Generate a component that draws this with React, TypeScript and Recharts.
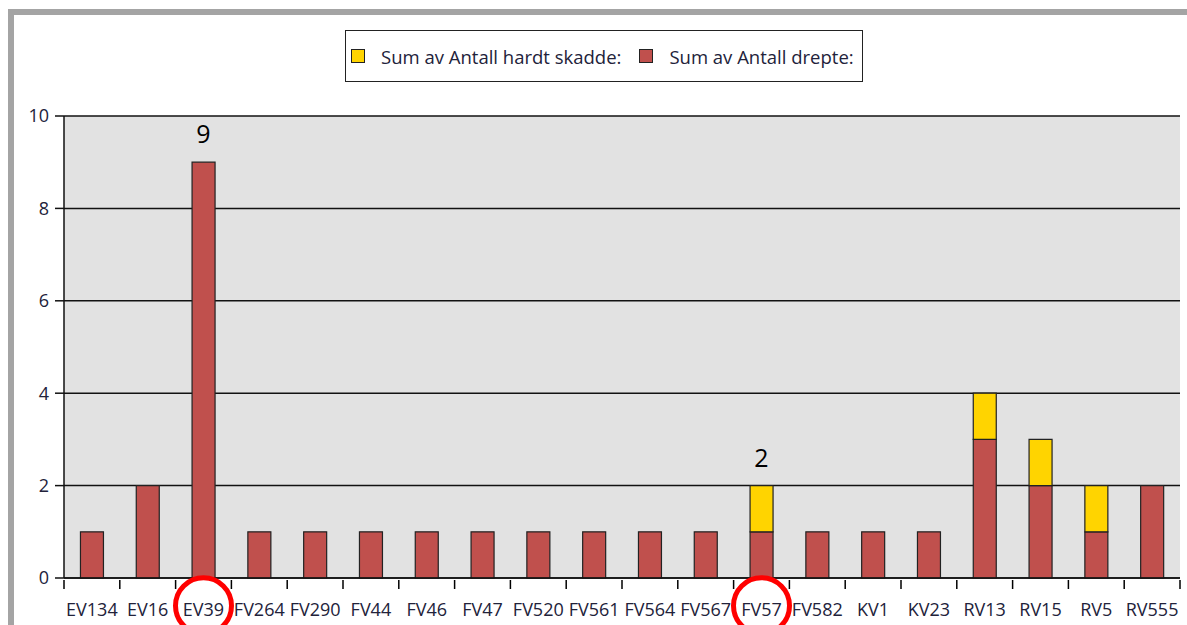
import React from 'react';
import { BarChart, Bar, XAxis, YAxis, CartesianGrid, Legend, ReferenceDot } from 'recharts';

const categories: string[] = [
    'EV134', 'EV16', 'EV39', 'FV264', 'FV290', 'FV44', 'FV46', 'FV47', 'FV520', 'FV561',
    'FV564', 'FV567', 'FV57', 'FV582', 'KV1', 'KV23', 'RV13', 'RV15', 'RV5', 'RV555',
];
const drepte: number[] = [1, 2, 9, 1, 1, 1, 1, 1, 1, 1, 1, 1, 1, 1, 1, 1, 3, 2, 1, 2];
const hardtSkadde: number[] = [0, 0, 0, 0, 0, 0, 0, 0, 0, 0, 0, 0, 1, 0, 0, 0, 1, 1, 1, 0];
const notes: string[] = ['', '', '9', '', '', '', '', '', '', '', '', '', '2', '', '', '', '', '', '', ''];
const circled: string[] = ['EV39', 'FV57'];
const yTicks: number[] = [0, 2, 4, 6, 8, 10];

const data = categories.map((name, i) => ({
    name,
    drepte: drepte[i],
    skadde: hardtSkadde[i],
}));

const noted = categories
    .map((name, i) => ({ name, total: drepte[i] + hardtSkadde[i], note: notes[i] }))
    .filter((d) => d.note !== '');

const W = 1187;
const H = 625;
const margin = { top: 116, right: 7, left: 14, bottom: 7 };
const yAxisWidth = 50;
const band = (W - margin.left - yAxisWidth - margin.right) / categories.length;
const font = '"Open Sans", sans-serif';
const labelColor = '#22223a';

const XTick = (props: any) => {
    const { x, y, payload, index } = props;
    const last = index === categories.length - 1;
    return (
        <g>
            <line x1={x - band / 2} y1={y - 9} x2={x - band / 2} y2={y} stroke="#000" strokeWidth={1.5} />
            {last && <line x1={x + band / 2} y1={y - 9} x2={x + band / 2} y2={y} stroke="#000" strokeWidth={1.5} />}
            <text x={x} y={y + 27} textAnchor="middle" fontSize={18} fontFamily={font} fill={labelColor}>
                {payload.value}
            </text>
        </g>
    );
};

const LegendBox = (props: any) => {
    const items = [...(props.payload || [])].reverse();
    return (
        <div
            style={{
                border: '1.5px solid #222',
                height: 52,
                display: 'flex',
                alignItems: 'center',
                paddingLeft: 5,
                fontFamily: font,
                fontSize: 18.5,
                color: labelColor,
                background: '#fff',
                boxSizing: 'border-box',
                whiteSpace: 'nowrap',
            }}
        >
            {items.map((it: any) => (
                <div key={it.value} style={{ display: 'flex', alignItems: 'center', marginRight: 18 }}>
                    <span
                        style={{
                            width: 12,
                            height: 12,
                            background: it.color,
                            border: '1.5px solid #222',
                            display: 'inline-block',
                            marginRight: 16,
                        }}
                    />
                    <span>{it.value}</span>
                </div>
            ))}
        </div>
    );
};

const App: React.FC = () => {
    return (
        <div style={{ position: 'absolute', left: 0, top: 0, width: W, height: H, background: '#fff' }}>
            <div style={{ position: 'absolute', left: 8, top: 9, right: 0, height: 6, background: '#a4a4a4' }} />
            <div style={{ position: 'absolute', left: 8, top: 9, width: 6, bottom: 0, background: '#a4a4a4' }} />
            <BarChart width={W} height={H} data={data} margin={margin} barCategoryGap="29.5%">
                <CartesianGrid vertical={false} stroke="#111" strokeWidth={1.5} fill="#e2e2e2" />
                <XAxis
                    dataKey="name"
                    height={40}
                    tickLine={false}
                    tickSize={9}
                    tick={<XTick />}
                    interval={0}
                    axisLine={{ stroke: '#111', strokeWidth: 1.5 }}
                />
                <YAxis
                    width={yAxisWidth}
                    domain={[0, 10]}
                    ticks={yTicks}
                    tickSize={9}
                    tickMargin={6}
                    tick={{ fontSize: 18, fontFamily: font, fill: labelColor }}
                    tickLine={{ stroke: '#111', strokeWidth: 1.5 }}
                    axisLine={{ stroke: '#111', strokeWidth: 1.5 }}
                />
                <YAxis
                    yAxisId="edge"
                    orientation="right"
                    width={0}
                    domain={[0, 10]}
                    tick={false}
                    tickLine={false}
                    axisLine={{ stroke: '#111', strokeWidth: 1.5 }}
                />
                <Legend
                    layout="horizontal"
                    verticalAlign="middle"
                    align="center"
                    content={<LegendBox />}
                    wrapperStyle={{ top: 30, left: 345, width: 518, height: 52 }}
                />
                <Bar
                    dataKey="drepte"
                    name="Sum av Antall drepte:"
                    stackId="a"
                    fill="#c0504d"
                    stroke="#222"
                    strokeWidth={1.2}
                    isAnimationActive={false}
                />
                <Bar
                    dataKey="skadde"
                    name="Sum av Antall hardt skadde:"
                    stackId="a"
                    fill="#ffd400"
                    stroke="#222"
                    strokeWidth={1.2}
                    isAnimationActive={false}
                />
                {noted.map((d) => (
                    <ReferenceDot
                        key={'n' + d.name}
                        x={d.name}
                        y={d.total}
                        r={0}
                        fill="none"
                        stroke="none"
                        ifOverflow="visible"
                        label={{ value: d.note, position: 'top', offset: 19, fill: '#000', fontSize: 25, fontFamily: font }}
                    />
                ))}
                {circled.map((c) => (
                    <ReferenceDot
                        key={c}
                        x={c}
                        y={-0.6}
                        r={28}
                        fill="none"
                        stroke="#ff0000"
                        strokeWidth={5}
                        ifOverflow="visible"
                    />
                ))}
            </BarChart>
        </div>
    );
};

export default App;
